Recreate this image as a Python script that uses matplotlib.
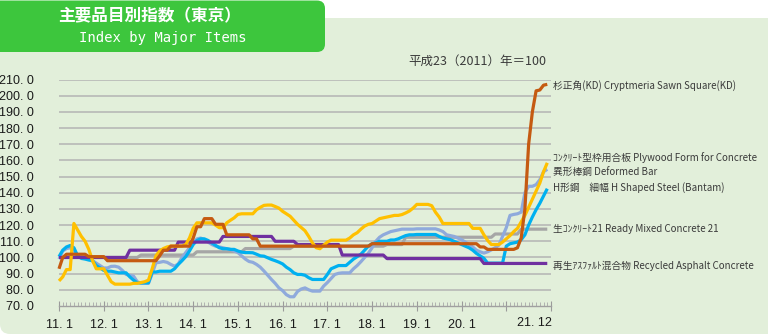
import numpy as np
import matplotlib
matplotlib.use("Agg")
import matplotlib.pyplot as plt
import matplotlib.ticker as mticker
import matplotlib.transforms as mtransforms
from matplotlib.patches import FancyBboxPatch

# monthly index values, Jan 2011 .. Dec 2021 (2011 average = 100), one row per year
cedar = [
    93, 100, 102, 102, 102, 102, 102, 102, 100.5, 100.5, 100.5, 100.5,
    100.5, 98, 98, 98, 98, 98, 98, 98, 98, 98, 98, 98,
    98, 98, 98, 101, 104.5, 104.5, 107, 107, 107, 107, 107, 107,
    112, 119, 119, 124, 124, 124, 120.5, 120.5, 120.5, 114, 114, 114,
    114, 114, 114, 114, 111.5, 111.5, 107, 107, 107, 107, 107, 107,
    107, 107, 107, 107, 107, 107, 107, 107, 107, 107, 107, 107,
    107, 107, 107, 107, 107, 107, 107, 107, 107, 107, 107, 107,
    108.5, 108.5, 108.5, 108.5, 108.5, 108.5, 108.5, 108.5, 108.5, 108.5, 108.5, 108.5,
    108.5, 108.5, 108.5, 108.5, 108.5, 108.5, 108.5, 108.5, 108.5, 108.5, 108.5, 108.5,
    108.5, 108.5, 108.5, 108.5, 108.5, 106.5, 106.5, 105, 105, 105, 105, 105,
    105, 105, 105, 106, 112, 130, 170, 190, 203, 203.5, 206.5, 207,
]
plywood = [
    85.5, 88, 92.5, 92.5, 121, 117, 113, 110, 105, 98, 93, 93,
    93, 89, 85, 83.5, 83.5, 83.5, 83.5, 83.5, 84, 84, 84.5, 85,
    86, 93, 101, 104, 105.5, 106.5, 107, 107, 107, 107, 108, 112,
    118, 121.4, 121.4, 121.4, 121.4, 121.4, 120, 118.4, 118.4, 121.4, 123, 124.5,
    126.6, 127, 127, 127, 127, 129.5, 131, 132.2, 132.4, 132.4, 131.5, 130.5,
    128.5, 127, 125.5, 123, 120.5, 118.5, 116.5, 113, 109, 106, 105.4, 107.5,
    109.5, 110.7, 110.7, 110.7, 110.7, 110.7, 112, 114, 115.3, 117.5, 119.4, 120.5,
    121, 122.5, 124, 124.5, 125, 125.5, 126, 126, 126.5, 127.5, 128.7, 130.5,
    132.8, 132.8, 132.8, 132.8, 132, 128, 125, 121, 121, 121, 121, 121,
    121, 121, 121, 118, 118, 118, 114, 110.5, 108, 108, 108, 109.5,
    111.5, 113.5, 116, 118, 122, 126, 131, 136, 141, 146, 153, 158.5,
]
deformed_bar = [
    99, 104, 105.5, 106, 104, 101, 100.5, 100, 99, 98, 96.5, 95,
    93.5, 93.5, 94.5, 94.6, 94, 92, 89.5, 89, 88.5, 85, 84, 84,
    84, 90, 96.7, 97, 97.5, 97, 95.7, 94.6, 96, 100, 103, 106,
    109, 111.5, 112, 111, 109.5, 108, 107, 106.5, 106, 105.4, 105, 104,
    103, 101, 99, 97.5, 97, 95.7, 94, 91.6, 89, 86.4, 84, 81.2,
    79.5, 77, 75.7, 75.7, 79, 80.5, 81.2, 80, 79.2, 79.2, 79.2, 82.3,
    84.5, 87, 89.5, 90.2, 90.5, 90.5, 90.5, 93, 95, 97.4, 100, 102.6,
    106, 110, 112.5, 114, 115, 116, 116.5, 117, 117.5, 117.5, 117.5, 117.5,
    117.7, 117.7, 117.7, 117.7, 117.7, 117.7, 117, 116, 114, 113.5, 113, 112,
    111, 109.5, 108, 106.5, 104.5, 103.5, 102.7, 103.5, 104.7, 106, 107.6, 113,
    118.4, 126, 126.6, 127, 128, 140, 144, 144, 145, 148, 153, 154.5,
]
h_steel = [
    100.5, 104.5, 106.5, 107.4, 106, 101, 99.4, 99, 98.4, 98, 95, 93.6,
    92, 91.5, 91.5, 91, 90.5, 90.5, 90.5, 88, 86, 84.3, 84.3, 84.3,
    84.3, 91, 91, 91.5, 91.5, 91.5, 91.5, 93, 95.7, 98, 100.5, 104,
    108, 110.5, 111.5, 111.5, 110.5, 109, 107.5, 106, 105.4, 105.4, 105, 105,
    104, 103.3, 103, 103, 102.9, 102, 101, 100.8, 99.8, 98.8, 98, 97.1,
    96, 94, 92.5, 90.5, 89.5, 89.5, 89, 87.5, 86.4, 86.4, 86.4, 86.4,
    89.5, 93, 94, 95, 95, 95, 97, 99, 100.5, 102, 104.5, 107,
    108.5, 109, 110, 110, 110, 110.8, 110.8, 111.5, 112.5, 113.5, 114, 114,
    114.2, 114.2, 114.2, 114.2, 114.2, 114.2, 113, 112, 111.5, 111, 110, 109,
    108, 107, 106, 104.5, 102.5, 101, 99.5, 96.5, 96.5, 96.5, 96.5, 96.5,
    107, 108.5, 109, 109.5, 111, 114, 120, 125, 129.5, 133.5, 138, 142.5,
]
ready_mixed = [
    100, 100, 100, 100, 100, 100, 100, 100, 100, 100, 100, 100,
    100, 100, 100, 100, 100, 100, 100, 100, 100, 100, 101.5, 101.5,
    101.5, 101.5, 101.5, 101.5, 101.5, 101.5, 101.5, 101.5, 101.5, 101.5, 101.5, 101.5,
    101.5, 103.5, 103.5, 103.5, 103.5, 103.5, 103.5, 103.5, 103.5, 103.5, 103.5, 103.5,
    103.5, 103.5, 105.5, 105.5, 105.5, 105.5, 105.5, 105.5, 105.5, 105.5, 105.5, 105.5,
    105.5, 105.5, 105.5, 107, 107, 107, 107, 107, 107, 107, 107, 107,
    107, 107, 107, 107, 107, 107, 107, 107, 107, 107, 107, 107,
    107, 107, 107, 107, 108, 108, 108, 108, 108, 112.5, 112.5, 112.5,
    112.5, 112.5, 112.5, 112.5, 112.5, 112.5, 112.5, 112.5, 112.5, 112.5, 112.5, 112.5,
    112.5, 112.5, 112.5, 112.5, 112.5, 112.5, 112.5, 112.5, 112.5, 114.5, 114.5, 114.5,
    114.5, 114.5, 114.5, 114.5, 117.5, 117.5, 117.5, 117.5, 117.5, 117.5, 117.5, 117.5,
]
asphalt = [
    100, 100, 100, 100, 100, 100, 100, 100, 100, 100, 100, 100,
    100, 100, 100, 100, 100, 100, 100, 104.5, 104.5, 104.5, 104.5, 104.5,
    104.5, 104.5, 104.5, 104.5, 104.5, 104.5, 104.5, 104.5, 109.5, 109.5, 109.5, 109.5,
    109.5, 109.5, 109.5, 109.5, 109.5, 109.5, 109.5, 109.5, 113, 113, 113, 113,
    113, 113, 113, 113, 113, 113, 113, 113, 113, 113, 110, 110,
    110, 110, 110, 110, 108, 108, 108, 108, 108, 108, 108, 108,
    108, 108, 108, 108, 101.5, 101.5, 101.5, 101.5, 101.5, 101.5, 101.5, 101.5,
    101.5, 101.5, 101.5, 101.5, 99.3, 99.3, 99.3, 99.3, 99.3, 99.3, 99.3, 99.3,
    99.3, 99.3, 99.3, 99.3, 99.3, 99.3, 99.3, 99.3, 99.3, 99.3, 99.3, 99.3,
    99.3, 99.3, 99.3, 99.3, 99.3, 99.3, 96.3, 96.3, 96.3, 96.3, 96.3, 96.3,
    96.3, 96.3, 96.3, 96.3, 96.3, 96.3, 96.3, 96.3, 96.3, 96.3, 96.3, 96.3,
]

year_labels = ['11. 1', '12. 1', '13. 1', '14. 1', '15. 1', '16. 1',
               '17. 1', '18. 1', '19. 1', '20. 1']
last_label = '21. 12'

# series drawn bottom to top: (values, colour, label text, label y in index units)
series = [
    (ready_mixed, '#A6A6A6', '生ｺﾝｸﾘｰﾄ21 Ready Mixed Concrete 21', 117.4),
    (deformed_bar, '#8FAADC', '異形棒鋼 Deformed Bar', 153.0),
    (h_steel, '#00B0F0', 'H形鋼　細幅 H Shaped Steel (Bantam)', 143.4),
    (asphalt, '#7030A0', '再生ｱｽﾌｧﾙﾄ混合物 Recycled Asphalt Concrete', 94.8),
    (plywood, '#FFC000', 'ｺﾝｸﾘｰﾄ型枠用合板 Plywood Form for Concrete', 161.9),
    (cedar, '#C55A11', '杉正角(KD) Cryptmeria Sawn Square(KD)', 206.2),
]

JP = ['Noto Sans CJK JP', 'DejaVu Sans']
NUM = ['Liberation Sans', 'DejaVu Sans']

W, H = 768, 336
fig = plt.figure(figsize=(W / 100, H / 100), dpi=100)
fig.patch.set_facecolor('white')

# background panel and header box, drawn in pixel units
bg = fig.add_axes([0, 0, 1, 1], zorder=-1)
bg.set_xlim(0, W)
bg.set_ylim(H, 0)
bg.axis('off')
bg.add_patch(FancyBboxPatch((0, 18), 820, 316, boxstyle='round,pad=0,rounding_size=10',
                            fc='#E2EFDA', ec='none'))
bg.add_patch(FancyBboxPatch((-30, 0.5), 355, 51.5, boxstyle='round,pad=0,rounding_size=8',
                            fc='#3DC63D', ec='none'))
bg.text(58, 16, '主要品目別指数（東京）', color='white', fontsize=12, fontweight='bold',
        family=JP, ha='left', va='center')
bg.text(79, 38, 'Index by Major Items', color='white', fontsize=10,
        family=['DejaVu Sans Mono'], ha='left', va='center')
bg.text(546, 61, '平成23（2011）年＝100', color='#3A3A3A', fontsize=9,
        family=JP, ha='right', va='center')

x0, x1 = 59, 551
y_top, y_bot = 79.5, 306
ax = fig.add_axes([x0 / W, (H - y_bot) / H, (x1 - x0) / W, (y_bot - y_top) / H])
ax.patch.set_alpha(0)
ax.set_xlim(0, 132)
ax.set_ylim(70, 210)

months = np.arange(len(cedar))
for vals, col, name, ly in series:
    ax.plot(months, vals, color=col, lw=2.3, solid_joinstyle='round', solid_capstyle='butt',
            clip_on=False)
    ax.text(132.6, ly, name, color='#3A3A3A', fontsize=7, family=JP,
            ha='left', va='center', clip_on=False)

for v in range(80, 211, 10):
    ax.axhline(v, color='#B4B4B4', lw=1.1, zorder=0)

ax.set_yticks(np.arange(70, 211, 10))
ax.yaxis.set_major_formatter(mticker.FuncFormatter(lambda v, p: ('%.1f' % v).replace('.', '. ')))
ax.tick_params(axis='y', length=0, pad=18, labelsize=9, labelcolor='#1A1A1A')
for lab in ax.get_yticklabels():
    lab.set_family(NUM)

ax.set_xticks(np.arange(0, 133, 12))
ax.set_xticks(np.arange(0, 133, 1), minor=True)
ax.set_xticklabels(year_labels + ['', ''])
ax.tick_params(axis='x', which='major', direction='inout', length=7, width=0.8, color='#9A9A9A',
               pad=6, labelsize=9, labelcolor='#1A1A1A')
ax.tick_params(axis='x', which='minor', direction='in', length=3, width=0.6, color='#A8A8A8')
for lab in ax.get_xticklabels():
    lab.set_family(NUM)
trans = mtransforms.blended_transform_factory(ax.transData, ax.transAxes)
ax.text(132.3, -0.075, last_label, transform=trans, ha='right', va='center',
        fontsize=9, family=NUM, color='#1A1A1A')

for side in ('top', 'right', 'left'):
    ax.spines[side].set_visible(False)
ax.spines['bottom'].set_color('#A0A0A0')
ax.spines['bottom'].set_linewidth(1.0)

fig.savefig('out.png', dpi=100, facecolor=fig.get_facecolor())
